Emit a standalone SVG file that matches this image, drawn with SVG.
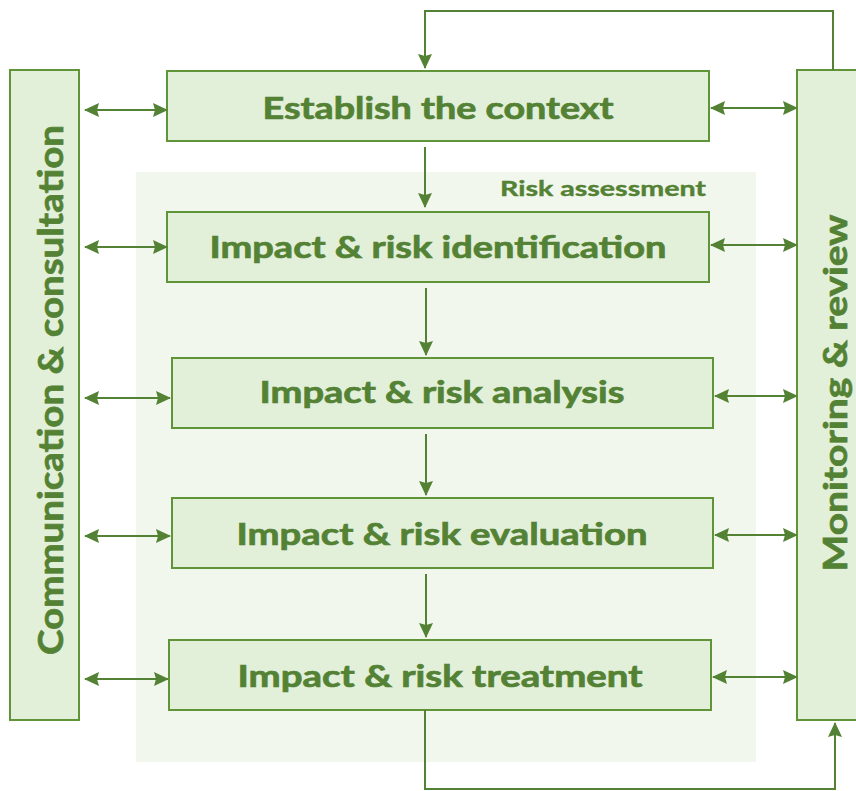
<svg xmlns="http://www.w3.org/2000/svg" width="856" height="791" viewBox="0 0 856 791">
  <style>
    .box { fill: #e2efd9; stroke: #5f9438; stroke-width: 2; }
    .lbl { font-family: Lato, "Open Sans", "Liberation Sans", sans-serif; font-weight: bold; fill: #548235; stroke: #548235; stroke-width: 0.7; }
    .big { font-size: 30px; text-anchor: middle; }
    .conn { stroke: #548235; stroke-width: 2; fill: none; }
  </style>
  <defs>
    <marker id="ah" viewBox="0 0 15 14" refX="14" refY="7" markerWidth="15" markerHeight="14" markerUnits="userSpaceOnUse" orient="auto-start-reverse">
      <path d="M0,0 L15,7 L0,14 L2,7 Z" fill="#548235"/>
    </marker>
  </defs>
  <rect width="856" height="791" fill="#ffffff"/>

  <g id="risk-assessment">
    <rect x="136" y="172" width="620" height="590" fill="#f1f7ed"/>
    <text class="lbl" x="706" y="196" font-size="21" text-anchor="end" textLength="206" lengthAdjust="spacingAndGlyphs" style="stroke-width:0.4">Risk assessment</text>
  </g>

  <g id="communication">
    <rect class="box" x="10" y="70" width="69" height="650"/>
    <text class="lbl" transform="translate(63,390) rotate(-90)" font-size="35" text-anchor="middle" textLength="530" lengthAdjust="spacingAndGlyphs">Communication  &amp;  consultation</text>
  </g>

  <g id="monitoring">
    <rect class="box" x="797" y="70" width="70" height="650"/>
    <text class="lbl" transform="translate(847,393) rotate(-90)" font-size="33" text-anchor="middle" textLength="357" lengthAdjust="spacingAndGlyphs">Monitoring  &amp;  review</text>
  </g>

  <g id="establish">
    <rect class="box" x="167" y="71" width="542" height="70"/>
    <text class="lbl big" x="438" y="119" textLength="351" lengthAdjust="spacingAndGlyphs">Establish  the context</text>
  </g>
  <g id="identification">
    <rect class="box" x="167" y="212" width="542" height="70"/>
    <text class="lbl big" x="438" y="258" textLength="457" lengthAdjust="spacingAndGlyphs">Impact &amp; risk identification</text>
  </g>
  <g id="analysis">
    <rect class="box" x="172" y="358" width="541" height="70"/>
    <text class="lbl big" x="442" y="403" textLength="365" lengthAdjust="spacingAndGlyphs">Impact &amp; risk analysis</text>
  </g>
  <g id="evaluation">
    <rect class="box" x="172" y="498" width="541" height="70"/>
    <text class="lbl big" x="442" y="545" textLength="411" lengthAdjust="spacingAndGlyphs">Impact &amp; risk evaluation</text>
  </g>
  <g id="treatment">
    <rect class="box" x="169" y="640" width="542" height="70"/>
    <text class="lbl big" x="440" y="687" textLength="405" lengthAdjust="spacingAndGlyphs">Impact &amp; risk treatment</text>
  </g>

  <g id="connectors">
    <!-- left double arrows -->
    <line class="conn" x1="85" y1="110" x2="167" y2="110" marker-start="url(#ah)" marker-end="url(#ah)"/>
    <line class="conn" x1="85" y1="247" x2="167" y2="247" marker-start="url(#ah)" marker-end="url(#ah)"/>
    <line class="conn" x1="85" y1="398" x2="170" y2="398" marker-start="url(#ah)" marker-end="url(#ah)"/>
    <line class="conn" x1="85" y1="536" x2="170" y2="536" marker-start="url(#ah)" marker-end="url(#ah)"/>
    <line class="conn" x1="85" y1="679" x2="168" y2="679" marker-start="url(#ah)" marker-end="url(#ah)"/>
    <!-- right double arrows -->
    <line class="conn" x1="711" y1="108" x2="797" y2="108" marker-start="url(#ah)" marker-end="url(#ah)"/>
    <line class="conn" x1="711" y1="245" x2="797" y2="245" marker-start="url(#ah)" marker-end="url(#ah)"/>
    <line class="conn" x1="715" y1="396" x2="797" y2="396" marker-start="url(#ah)" marker-end="url(#ah)"/>
    <line class="conn" x1="715" y1="535" x2="797" y2="535" marker-start="url(#ah)" marker-end="url(#ah)"/>
    <line class="conn" x1="713" y1="677" x2="797" y2="677" marker-start="url(#ah)" marker-end="url(#ah)"/>
    <!-- vertical flow -->
    <line class="conn" x1="425" y1="147" x2="425" y2="207" marker-end="url(#ah)"/>
    <line class="conn" x1="426" y1="288" x2="426" y2="355" marker-end="url(#ah)"/>
    <line class="conn" x1="426" y1="434" x2="426" y2="495" marker-end="url(#ah)"/>
    <line class="conn" x1="426" y1="574" x2="426" y2="637" marker-end="url(#ah)"/>
    <!-- feedback loops -->
    <path class="conn" d="M833,70 V11 H425 V68" marker-end="url(#ah)"/>
    <path class="conn" d="M425,710 V789 H835 V723" marker-end="url(#ah)"/>
  </g>
</svg>
